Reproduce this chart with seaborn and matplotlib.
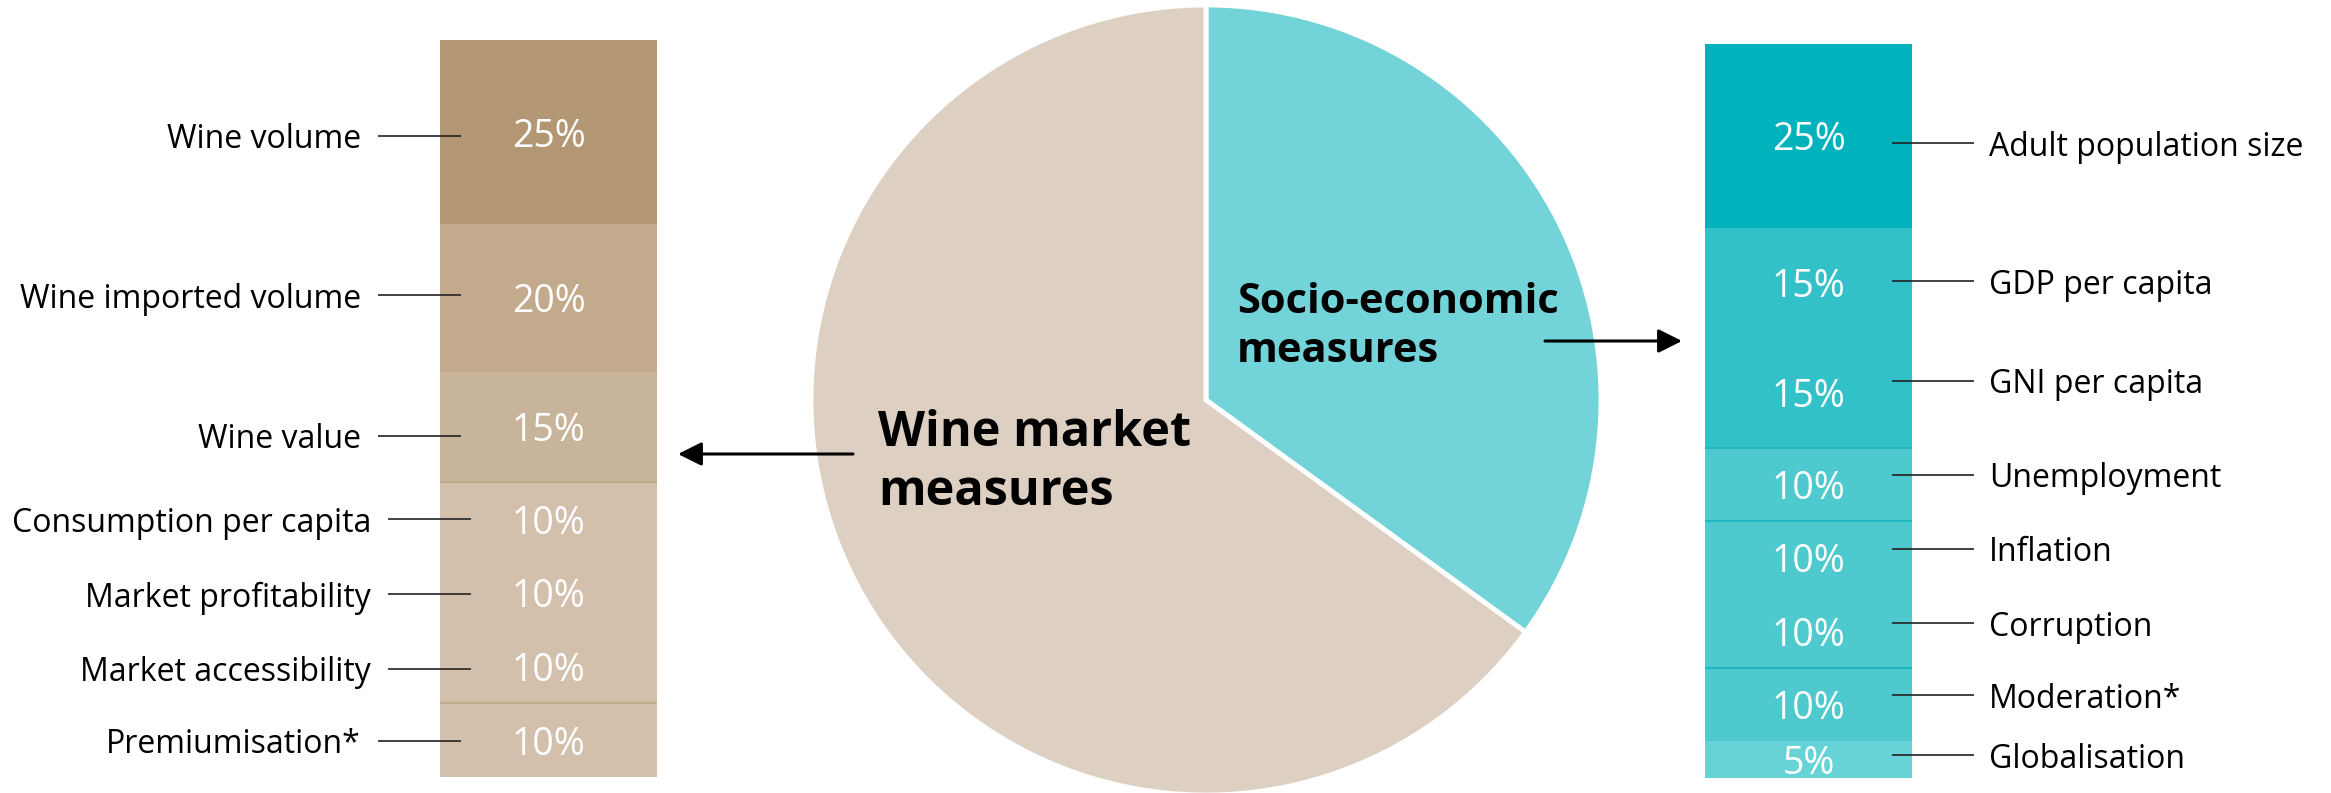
import numpy as np
import matplotlib
matplotlib.use("Agg")
import matplotlib.pyplot as plt
import matplotlib.transforms as mtransforms
import seaborn as sns

# ---- data -------------------------------------------------------------
pie_labels = ["Socio-economic\nmeasures", "Wine market\nmeasures"]
pie_shares = [35, 65]
pie_colors = ["#72D3D8", "#DDD0C2"]

wine_labels = ["Wine volume", "Wine imported volume", "Wine value",
               "Consumption per capita", "Market profitability",
               "Market accessibility", "Premiumisation*"]
wine_weights = [25, 20, 15, 10, 10, 10, 10]
wine_colors = ["#B39673", "#C4AA8C", "#C8B39B", "#D2C0AC",
               "#D2C0AC", "#D2C0AC", "#D2C0AC"]
wine_ruled = [False, False, False, True, False, False, True]

socio_labels = ["Adult population size", "GDP per capita", "GNI per capita",
                "Unemployment", "Inflation", "Corruption", "Moderation*",
                "Globalisation"]
socio_weights = [25, 15, 15, 10, 10, 10, 10, 5]
socio_colors = ["#00B2BB", "#33C1C9", "#33C1C9", "#4ECACF",
                "#4ECACF", "#4ECACF", "#4ECACF", "#68D3D7"]
socio_ruled = [False, False, False, True, True, False, True, False]

# ---- layout of the callouts (column units from the top / pixel x) -----
wine_label_y = [13.0, 34.6, 53.7, 65.0, 75.2, 85.3, 95.1]
wine_label_right = [361, 361, 361, 371, 371, 371, 361]
socio_label_y = [13.5, 32.3, 45.9, 58.7, 68.8, 78.9, 88.7, 96.9]

# ---- style ------------------------------------------------------------
sns.set_theme(style="white")
plt.rcParams["font.family"] = ["Open Sans", "DejaVu Sans"]

W, H = 2331, 793
fig = plt.figure(figsize=(W / 100, H / 100), dpi=100)
fig.patch.set_facecolor("white")


def px_axes(x0, y0, x1, y1):
    """Axes placed by pixel box (top-left origin)."""
    return fig.add_axes([x0 / W, 1 - y1 / H, (x1 - x0) / W, (y1 - y0) / H])


def stacked_column(ax, weights, colors, ruled, rule_color):
    cum = np.cumsum(weights)
    # overlapping cumulative columns, longest first, give a stacked column
    for i in reversed(range(len(weights))):
        sns.barplot(x=[0], y=[cum[i]], color=colors[i], saturation=1,
                    width=1.0, errorbar=None, edgecolor="none", ax=ax)
    ax.set_xlim(-0.5, 0.5)
    ax.set_ylim(cum[-1], 0)
    ax.set_axis_off()
    mids = cum - np.asarray(weights) / 2
    for i, w in enumerate(weights):
        if ruled[i] and i > 0:
            ax.axhline(cum[i - 1], color=rule_color, lw=1.3, zorder=5)
        ax.text(0, mids[i], f"{w}%", ha="center", va="center_baseline",
                color="white", fontsize=27, fontweight="normal", zorder=6)


ax_left = px_axes(440, 40, 657, 777)
stacked_column(ax_left, wine_weights, wine_colors, wine_ruled, "#C2A888")

ax_right = px_axes(1705, 44, 1912, 778)
stacked_column(ax_right, socio_weights, socio_colors, socio_ruled, "#1DB6C0")

# ---- pie --------------------------------------------------------------
ax_pie = px_axes(811, 5, 1601, 795)
ax_pie.pie(pie_shares, colors=pie_colors, startangle=90, counterclock=False,
           radius=1.0,
           wedgeprops=dict(edgecolor="white", linewidth=3.5))
ax_pie.set_xlim(-1, 1)
ax_pie.set_ylim(-1, 1)
ax_pie.set_aspect("equal")
ax_pie.set_axis_off()

# ---- overlay for labels, leader lines and arrows ----------------------
ov = fig.add_axes([0, 0, 1, 1], facecolor="none")
ov.set_xlim(0, W)
ov.set_ylim(H, 0)
ov.set_axis_off()

blend_l = mtransforms.blended_transform_factory(ov.transData, ax_left.transData)
for lab, m, xr in zip(wine_labels, wine_label_y, wine_label_right):
    ov.plot([xr + 17, xr + 100], [m, m], color="#222222", lw=1.2,
            transform=blend_l, solid_capstyle="butt")
    ov.text(xr, m, lab, transform=blend_l, ha="right", va="center_baseline",
            fontsize=23, color="black")

blend_r = mtransforms.blended_transform_factory(ov.transData, ax_right.transData)
for lab, m in zip(socio_labels, socio_label_y):
    ov.plot([1892, 1974], [m, m], color="#222222", lw=1.2, transform=blend_r,
            solid_capstyle="butt")
    ov.text(1989, m, lab, transform=blend_r, ha="left", va="center_baseline",
            fontsize=23, color="black")

ov.text(878, 505, pie_labels[1], ha="left", va="baseline", fontsize=35,
        fontweight="bold", color="black", linespacing=1.27)
ov.text(1237, 362, pie_labels[0], ha="left", va="baseline", fontsize=30,
        fontweight="bold", color="black", linespacing=1.27)

arrow = dict(arrowstyle="-|>", color="black", lw=2.2, mutation_scale=36,
             shrinkA=0, shrinkB=0)
ov.annotate("", xy=(678, 454), xytext=(853, 454), arrowprops=arrow)
ov.annotate("", xy=(1682, 341), xytext=(1545, 341), arrowprops=arrow)

fig.savefig("out.png", dpi=100, facecolor="white")
